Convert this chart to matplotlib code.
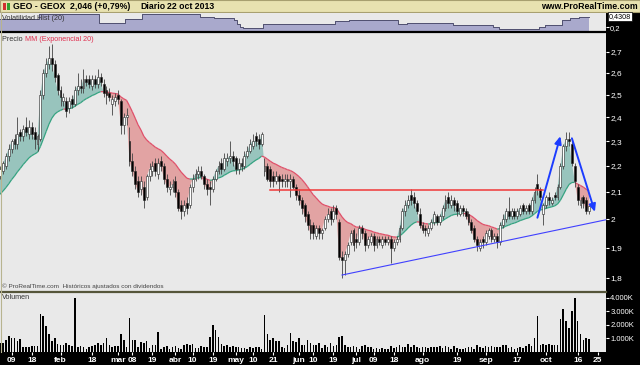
import numpy as np
import pandas as pd
import matplotlib
matplotlib.use("Agg")
import matplotlib.pyplot as plt
from matplotlib.collections import LineCollection
from matplotlib.patches import Rectangle
from matplotlib.ticker import FixedLocator, NullLocator, FixedFormatter

plt.rcParams['font.family'] = ['Liberation Sans', 'DejaVu Sans']

# ---------------- data ----------------
holidays = ['2013-03-29', '2013-04-01', '2013-05-01']

prior_closes = [2.02, 2.04, 2.03, 2.05, 2.06, 2.04, 2.07, 2.08, 2.06, 2.09,
                2.10, 2.08, 2.11, 2.12, 2.10, 2.13]   # Dec 2012, EMA warm-up

opens = [
 2.15, 2.16, 2.18, 2.20, 2.24, 2.27, 2.31, 2.29, 2.34, 2.32,
 2.36, 2.33, 2.36, 2.34, 2.29, 2.31, 2.50, 2.60, 2.64, 2.67,
 2.64, 2.59, 2.52, 2.47, 2.47, 2.44, 2.48, 2.46, 2.52, 2.54,
 2.53, 2.57, 2.57, 2.54, 2.57, 2.55, 2.58, 2.55, 2.52, 2.51,
 2.46, 2.47, 2.50, 2.47, 2.37, 2.40, 2.30, 2.22, 2.18, 2.14,
 2.11, 2.12, 2.08, 2.16, 2.18, 2.21, 2.17, 2.22, 2.20, 2.15,
 2.11, 2.12, 2.14, 2.10, 2.05, 2.03, 2.06, 2.05, 2.12, 2.15,
 2.17, 2.18, 2.16, 2.13, 2.12, 2.11, 2.15, 2.18, 2.21, 2.19,
 2.22, 2.23, 2.24, 2.23, 2.19, 2.21, 2.20, 2.24, 2.26, 2.28,
 2.32, 2.31, 2.29, 2.18, 2.20, 2.19, 2.16, 2.14, 2.16, 2.15,
 2.14, 2.15, 2.14, 2.15, 2.12, 2.09, 2.07, 2.05, 2.02, 1.98,
 1.98, 1.94, 1.97, 1.95, 1.97, 2.00, 2.03, 2.00, 2.04, 1.99,
 1.87, 1.86, 1.88, 1.92, 1.96, 1.93, 1.92, 1.97, 1.95, 1.91,
 1.92, 1.94, 1.91, 1.93, 1.91, 1.93, 1.92, 1.93, 1.90, 1.92,
 1.93, 1.97, 2.03, 2.05, 2.09, 2.08, 2.06, 2.02, 1.98, 1.97,
 1.95, 1.97, 1.99, 2.01, 1.99, 2.01, 2.04, 2.08, 2.05, 2.07,
 2.06, 2.02, 2.04, 2.03, 2.02, 1.99, 1.97, 1.93, 1.90, 1.93,
 1.92, 1.94, 1.96, 1.93, 1.94, 1.92, 1.98, 2.00, 2.03, 2.01,
 2.03, 2.01, 2.02, 2.05, 2.03, 2.05, 2.03, 2.07, 2.13, 2.11,
 2.02, 2.05, 2.08, 2.06, 2.09, 2.08, 2.12, 2.20, 2.28, 2.31,
 2.29, 2.20, 2.12, 2.05, 2.08, 2.07, 2.03]

closes = [
 2.16, 2.19, 2.21, 2.24, 2.27, 2.30, 2.29, 2.33, 2.32, 2.35,
 2.34, 2.36, 2.33, 2.31, 2.32, 2.50, 2.60, 2.64, 2.67, 2.64,
 2.58, 2.52, 2.49, 2.49, 2.43, 2.47, 2.46, 2.52, 2.54, 2.53,
 2.57, 2.56, 2.55, 2.57, 2.55, 2.58, 2.56, 2.51, 2.50, 2.49,
 2.48, 2.49, 2.48, 2.37, 2.40, 2.41, 2.22, 2.18, 2.13, 2.10,
 2.14, 2.07, 2.16, 2.19, 2.20, 2.18, 2.21, 2.20, 2.15, 2.12,
 2.12, 2.13, 2.10, 2.04, 2.03, 2.05, 2.04, 2.12, 2.15, 2.17,
 2.18, 2.16, 2.13, 2.11, 2.11, 2.15, 2.18, 2.20, 2.19, 2.23,
 2.23, 2.24, 2.22, 2.19, 2.21, 2.20, 2.24, 2.26, 2.29, 2.30,
 2.30, 2.29, 2.33, 2.20, 2.15, 2.14, 2.14, 2.16, 2.14, 2.14,
 2.15, 2.14, 2.15, 2.12, 2.09, 2.07, 2.04, 2.01, 1.98, 1.95,
 1.95, 1.97, 1.95, 1.96, 2.00, 2.02, 2.00, 2.03, 2.02, 1.87,
 1.86, 1.88, 1.91, 1.95, 1.91, 1.92, 1.97, 1.95, 1.91, 1.93,
 1.94, 1.91, 1.93, 1.92, 1.93, 1.92, 1.93, 1.90, 1.92, 1.93,
 1.97, 2.03, 2.05, 2.07, 2.07, 2.06, 2.03, 1.98, 1.96, 1.96,
 1.97, 1.99, 2.02, 1.99, 2.01, 2.04, 2.07, 2.06, 2.07, 2.05,
 2.03, 2.04, 2.03, 2.01, 1.99, 1.96, 1.93, 1.91, 1.92, 1.92,
 1.95, 1.96, 1.93, 1.94, 1.92, 1.98, 2.00, 2.03, 2.01, 2.03,
 2.01, 2.03, 2.04, 2.03, 2.04, 2.03, 2.07, 2.10, 2.11, 2.08,
 2.05, 2.08, 2.07, 2.07, 2.08, 2.12, 2.20, 2.28, 2.31, 2.30,
 2.21, 2.14, 2.07, 2.07, 2.06, 2.03, 2.046]

highs = [
 2.18, 2.20, 2.22, 2.25, 2.29, 2.31, 2.33, 2.40, 2.35, 2.37,
 2.40, 2.39, 2.38, 2.36, 2.33, 2.52, 2.62, 2.67, 2.73, 2.74,
 2.66, 2.60, 2.54, 2.51, 2.49, 2.49, 2.50, 2.54, 2.60, 2.57,
 2.62, 2.59, 2.59, 2.59, 2.59, 2.62, 2.60, 2.57, 2.54, 2.53,
 2.50, 2.51, 2.52, 2.48, 2.42, 2.44, 2.36, 2.25, 2.20, 2.16,
 2.16, 2.14, 2.17, 2.21, 2.22, 2.23, 2.23, 2.24, 2.21, 2.17,
 2.14, 2.15, 2.16, 2.11, 2.07, 2.07, 2.08, 2.13, 2.17, 2.19,
 2.20, 2.20, 2.17, 2.15, 2.14, 2.16, 2.19, 2.22, 2.23, 2.25,
 2.25, 2.30, 2.26, 2.24, 2.23, 2.23, 2.26, 2.28, 2.31, 2.33,
 2.34, 2.33, 2.34, 2.23, 2.21, 2.20, 2.18, 2.18, 2.17, 2.17,
 2.17, 2.17, 2.17, 2.16, 2.13, 2.11, 2.08, 2.06, 2.03, 2.00,
 1.99, 1.98, 1.98, 1.97, 2.01, 2.04, 2.04, 2.05, 2.05, 2.00,
 1.89, 1.89, 1.92, 1.96, 1.97, 1.95, 1.98, 1.98, 1.96, 1.94,
 1.95, 1.95, 1.94, 1.94, 1.94, 1.94, 1.94, 1.94, 1.93, 1.94,
 1.98, 2.04, 2.07, 2.09, 2.11, 2.10, 2.07, 2.04, 1.99, 1.98,
 1.98, 2.00, 2.03, 2.02, 2.02, 2.05, 2.09, 2.10, 2.09, 2.08,
 2.07, 2.05, 2.05, 2.04, 2.03, 2.00, 1.98, 1.94, 1.93, 1.94,
 1.96, 1.97, 1.97, 1.95, 1.95, 1.99, 2.02, 2.04, 2.08, 2.04,
 2.04, 2.04, 2.05, 2.06, 2.05, 2.06, 2.08, 2.12, 2.17, 2.12,
 2.06, 2.09, 2.10, 2.08, 2.10, 2.13, 2.21, 2.29, 2.34, 2.34,
 2.30, 2.21, 2.13, 2.08, 2.09, 2.08, 2.05]

lows = [
 2.13, 2.15, 2.17, 2.19, 2.22, 2.25, 2.27, 2.27, 2.30, 2.30,
 2.32, 2.31, 2.31, 2.27, 2.26, 2.30, 2.48, 2.58, 2.62, 2.61,
 2.56, 2.50, 2.45, 2.45, 2.40, 2.42, 2.44, 2.45, 2.50, 2.51,
 2.51, 2.54, 2.53, 2.52, 2.53, 2.53, 2.54, 2.49, 2.46, 2.47,
 2.41, 2.45, 2.46, 2.33, 2.33, 2.37, 2.20, 2.16, 2.11, 2.08,
 2.09, 2.04, 2.07, 2.14, 2.16, 2.16, 2.15, 2.18, 2.13, 2.10,
 2.09, 2.10, 2.08, 2.03, 2.00, 2.01, 2.02, 2.04, 2.10, 2.14,
 2.15, 2.15, 2.11, 2.09, 2.05, 2.10, 2.14, 2.17, 2.17, 2.18,
 2.20, 2.21, 2.20, 2.17, 2.17, 2.18, 2.19, 2.23, 2.25, 2.27,
 2.28, 2.27, 2.28, 2.16, 2.14, 2.12, 2.12, 2.13, 2.10, 2.12,
 2.12, 2.12, 2.08, 2.11, 2.07, 2.05, 2.02, 1.99, 1.96, 1.93,
 1.93, 1.93, 1.93, 1.93, 1.96, 1.99, 1.98, 1.99, 2.00, 1.86,
 1.80, 1.81, 1.87, 1.91, 1.89, 1.90, 1.91, 1.93, 1.89, 1.90,
 1.91, 1.89, 1.90, 1.91, 1.90, 1.91, 1.91, 1.85, 1.89, 1.91,
 1.92, 1.96, 2.01, 2.04, 2.05, 2.04, 2.02, 1.97, 1.95, 1.94,
 1.94, 1.96, 1.98, 1.98, 1.98, 2.00, 2.03, 2.04, 2.04, 2.03,
 2.01, 2.01, 2.01, 2.00, 1.98, 1.95, 1.92, 1.89, 1.89, 1.90,
 1.91, 1.93, 1.92, 1.92, 1.90, 1.91, 1.97, 1.99, 2.00, 2.00,
 2.00, 2.00, 2.01, 2.02, 2.02, 2.02, 2.02, 2.06, 2.09, 2.07,
 1.98, 2.04, 2.05, 2.05, 2.07, 2.07, 2.11, 2.19, 2.26, 2.28,
 2.20, 2.12, 2.05, 2.04, 2.04, 2.02, 2.02]

volume_k = [
 700, 700, 650, 900, 1150, 1050, 1000, 800, 950, 400,
 400, 400, 420, 450, 450, 2775, 2650, 1900, 1350, 800,
 1050, 600, 500, 500, 650, 500, 450, 3950, 400, 420,
 400, 250, 400, 450, 500, 650, 480, 700, 1050, 500,
 350, 450, 450, 1350, 850, 400, 2525, 850, 850, 400,
 750, 650, 800, 300, 500, 550, 1450, 250, 400, 450,
 250, 380, 450, 300, 250, 550, 600, 550, 600, 300,
 300, 450, 350, 400, 1100, 2025, 1650, 1100, 600, 450,
 500, 350, 450, 350, 400, 300, 300, 250, 350, 300,
 400, 350, 250, 2725, 1325, 900, 1050, 800, 800, 350,
 300, 500, 1375, 800, 750, 1050, 500, 500, 850, 700,
 500, 500, 700, 300, 500, 400, 650, 450, 550, 1100,
 1200, 550, 400, 350, 450, 400, 250, 450, 550, 350,
 350, 200, 300, 250, 300, 200, 250, 450, 300, 400,
 500, 350, 400, 600, 400, 550, 350, 300, 400, 350,
 300, 400, 350, 400, 450, 300, 450, 350, 200, 450,
 300, 250, 200, 300, 350, 400, 250, 550, 400, 300,
 450, 350, 450, 400, 400, 350, 500, 550, 300, 400,
 250, 300, 400, 300, 450, 600, 450, 1000, 2650, 550,
 600, 500, 600, 550, 500, 550, 2400, 3200, 2300, 1800,
 3000, 4000, 2300, 1300, 900, 1000, 950]

hist_vol = (
 [0.38] * 15 + [0.48] * 21 + [0.30] * 9 + [0.38] * 6 + [0.48] * 20 +
 [0.43, 0.43, 0.42, 0.42, 0.42, 0.41, 0.41, 0.41, 0.40, 0.40, 0.40, 0.40] +
 [0.35, 0.28, 0.22] + [0.19] * 7 + [0.28] * 18 + [0.27] * 7 + [0.34] * 5 +
 [0.36] * 17 + [0.28] * 3 + [0.30] * 16 + [0.26] * 14 + [0.22, 0.22] +
 [0.17] * 14 + [0.22, 0.22] + [0.26] * 6 + [0.36] * 3 + [0.40] * 3 +
 [0.43, 0.43, 0.43, 0.4308])

tick_dates = ['2013-01-09', '2013-01-18', '2013-02-01', '2013-02-18', '2013-03-01',
              '2013-03-08', '2013-03-19', '2013-04-02', '2013-04-10', '2013-04-19',
              '2013-05-02', '2013-05-10', '2013-05-21', '2013-06-03', '2013-06-10',
              '2013-06-19', '2013-07-01', '2013-07-09', '2013-07-18', '2013-08-01',
              '2013-08-19', '2013-09-02', '2013-09-17', '2013-10-01', '2013-10-16',
              '2013-10-25']
tick_labels = ['09', '18', 'feb', '18', 'mar', '08', '19', 'abr', '10', '19', 'may',
               '10', '21', 'jun', '10', '19', 'jul', '09', '18', 'ago', '19', 'sep',
               '17', 'oct', '16', '25']
price_ticks = [1.8, 1.9, 2.0, 2.1, 2.2, 2.3, 2.4, 2.5, 2.6, 2.7]
vol_ticks = [1000, 2000, 3000, 4000]

resistance_price = 2.107
resistance_dates = ['2013-05-20', '2013-09-30']
trend_dates = ['2013-06-24', '2013-10-31']
trend_prices = [1.809, 2.0]
arrow_up_dates = ['2013-09-26', '2013-10-08']
arrow_up_prices = [2.005, 2.321]
arrow_dn_dates = ['2013-10-14', '2013-10-24']
arrow_dn_prices = [2.312, 2.026]

# ---------------- setup ----------------
o = np.array(opens); c = np.array(closes); h = np.array(highs); l = np.array(lows)
vol = np.array(volume_k); hv = np.array(hist_vol)
n = len(c)
dates = pd.bdate_range('2013-01-02', '2013-11-08')
dates = dates[~dates.isin(pd.to_datetime(holidays))]
idx = np.arange(n)

def pos(d):
    return float(dates.get_loc(pd.Timestamp(d)))

full = pd.Series(np.r_[prior_closes, c])
ema = full.ewm(span=20, adjust=False).mean().values[len(prior_closes):]

W, H = 640, 365
fig = plt.figure(figsize=(W / 100, H / 100), dpi=100)
fig.patch.set_facecolor('#e8e8e8')

def rect(x0, y0, x1, y1):
    return [x0 / W, 1 - y1 / H, (x1 - x0) / W, (y1 - y0) / H]

XL = (0.94, 211.87)
BG = '#e9e9e9'

# black bands & title bar (behind axes)
fig.patches.append(Rectangle((606 / W, 0), 34 / W, 1 - 12 / H, transform=fig.transFigure,
                             facecolor='black', edgecolor='none', zorder=-5))
fig.patches.append(Rectangle((0, 0), 1, 13 / H, transform=fig.transFigure,
                             facecolor='black', edgecolor='none', zorder=-5))
fig.patches.append(Rectangle((0, 1 - 12 / H), 1, 12 / H, transform=fig.transFigure,
                             facecolor='#e8e2b0', edgecolor='#a8a070', lw=0.8, zorder=-5))
ty = 1 - 6.5 / H
TS = 6.3
fig.text(13 / W, ty, 'GEO - GEOX', fontsize=TS, fontweight='bold', va='center')
fig.text(70 / W, ty, '2,046 (+0,79%)', fontsize=TS, fontweight='bold', va='center')
fig.text(140 / W, ty, 'Diario', fontsize=TS, fontweight='bold', va='center')
fig.text(167 / W, ty, '22 oct 2013', fontsize=TS, fontweight='bold', va='center')
fig.text(638 / W, ty, 'www.ProRealTime.com', fontsize=TS, fontweight='bold',
         va='center', ha='right')
fig.patches.append(Rectangle((3 / W, 1 - 10 / H), 3 / W, 7 / H, transform=fig.transFigure,
                             facecolor='#d03030', edgecolor='none'))
fig.patches.append(Rectangle((7 / W, 1 - 10 / H), 3 / W, 7 / H, transform=fig.transFigure,
                             facecolor='#30a030', edgecolor='none'))

# ---------------- volatility panel ----------------
axv = fig.add_axes(rect(0, 13, 606, 31))
axv.set_facecolor(BG)
axv.fill_between(idx, 0, hv, color='#a9a9cc', lw=0, step='mid', zorder=1)
axv.step(idx, hv, where='mid', color='#505070', lw=0.7, zorder=2)
axv.set_xlim(*XL)
axv.set_ylim(0.125, 0.51)
axv.xaxis.set_major_locator(NullLocator())
axv.yaxis.tick_right()
axv.yaxis.set_major_locator(FixedLocator([0.2]))
axv.yaxis.set_major_formatter(FixedFormatter(['0,2']))
axv.tick_params(axis='y', colors='white', labelsize=5.5, length=2, pad=1)
for s in axv.spines.values():
    s.set_visible(False)
axv.text(0.004, 0.72, 'Volatilidad Hist (20)', transform=axv.transAxes,
         fontsize=5.2, color='#333333', va='center', zorder=5)
axv.text(1.005, hv[-1], '0,4308', transform=axv.get_yaxis_transform(), fontsize=5.2,
         color='black', va='center', ha='left', zorder=6,
         bbox=dict(boxstyle='square,pad=0.1', facecolor='white', edgecolor='black', lw=0.5))
fig.add_artist(plt.Line2D([0, 606 / W], [1 - 31.5 / H] * 2, color='black', lw=1.6))

# ---------------- price panel ----------------
axp = fig.add_axes(rect(0, 33, 606, 290))
axp.set_facecolor(BG)
axp.set_yscale('log')
axp.set_xlim(*XL)
axp.set_ylim(1.761, 2.793)

up = c >= ema
axp.fill_between(idx, c, ema, where=up, interpolate=True, color='#98c4bd', lw=0, zorder=1)
axp.fill_between(idx, c, ema, where=~up, interpolate=True, color='#e2a3a3', lw=0, zorder=1)
pts = np.column_stack([idx, ema])
segs = np.stack([pts[:-1], pts[1:]], axis=1)
seg_cols = ['#35a381' if up[i + 1] else '#e0506a' for i in range(n - 1)]
axp.add_collection(LineCollection(segs, colors=seg_cols, lw=0.9, zorder=2))

axp.vlines(idx, l, h, color='#444444', lw=0.6, zorder=3)
body_b = np.minimum(o, c)
body_h = np.maximum(np.abs(c - o), 0.003)
cols = np.where(c >= o, 'white', 'black')
axp.bar(idx, body_h, bottom=body_b, width=0.66, color=cols, edgecolor='#222222', lw=0.4, zorder=4)

# drawn annotations
axp.plot([pos(d) for d in resistance_dates], [resistance_price] * 2, color='#f03838', lw=1.1, zorder=5)
axp.plot([pos(d) for d in trend_dates], trend_prices, color='#4040ff', lw=0.8, zorder=5)
for ds, ps in [(arrow_up_dates, arrow_up_prices), (arrow_dn_dates, arrow_dn_prices)]:
    axp.annotate('', xy=(pos(ds[1]), ps[1]), xytext=(pos(ds[0]), ps[0]),
                 arrowprops=dict(arrowstyle='-|>,head_length=0.45,head_width=0.2',
                                 color='#1c3cff', lw=1.4, shrinkA=0, shrinkB=0), zorder=6)

axp.yaxis.tick_right()
axp.yaxis.set_major_locator(FixedLocator(price_ticks))
axp.yaxis.set_minor_locator(NullLocator())
axp.yaxis.set_major_formatter(FixedFormatter(
    [('%g' % t).replace('.', ',') for t in price_ticks]))
axp.tick_params(axis='y', which='both', colors='white', labelsize=6, length=2, pad=1)
axp.xaxis.set_major_locator(NullLocator())
axp.xaxis.set_minor_locator(NullLocator())
for s in axp.spines.values():
    s.set_visible(False)
axp.text(0.004, 0.975, 'Precio ', transform=axp.transAxes, fontsize=5.2, color='#333333',
         va='center')
axp.text(0.042, 0.975, 'MM (Exponencial 20)', transform=axp.transAxes, fontsize=5.2,
         color='#e03050', va='center')
axp.text(0.003, 0.004, '\u00a9 ProRealTime.com  Hist\u00f3ricos ajustados con dividendos',
         transform=axp.transAxes, fontsize=4.6, color='#444444', va='bottom')
fig.add_artist(plt.Line2D([0, 606 / W], [1 - 291.5 / H] * 2, color='#55553a', lw=1.6))
fig.add_artist(plt.Line2D([0.5 / W] * 2, [13 / H, 1 - 12 / H], color='#b8b490', lw=0.8))

# ---------------- volume panel ----------------
axq = fig.add_axes(rect(0, 293, 606, 352))
axq.set_facecolor(BG)
axq.bar(idx, vol, width=0.55, color='black', lw=0)
axq.set_xlim(*XL)
axq.set_ylim(0, 4350)
axq.yaxis.tick_right()
axq.yaxis.set_major_locator(FixedLocator(vol_ticks))
axq.yaxis.set_major_formatter(FixedFormatter(['1.000K', '2.000K', '3.000K', '4.000K']))
axq.tick_params(axis='y', colors='white', labelsize=5.5, length=2, pad=1)
axq.xaxis.set_major_locator(FixedLocator([pos(d) for d in tick_dates]))
axq.xaxis.set_major_formatter(FixedFormatter(tick_labels))
axq.tick_params(axis='x', colors='white', labelsize=6, length=2, pad=1.5)
for lab in axq.get_xticklabels():
    lab.set_fontweight('bold')
for s in axq.spines.values():
    s.set_visible(False)
axq.text(0.004, 0.93, 'Volumen', transform=axq.transAxes, fontsize=5.2, color='#333333',
         va='center')

fig.savefig('out.png', dpi=100, facecolor=fig.get_facecolor())
